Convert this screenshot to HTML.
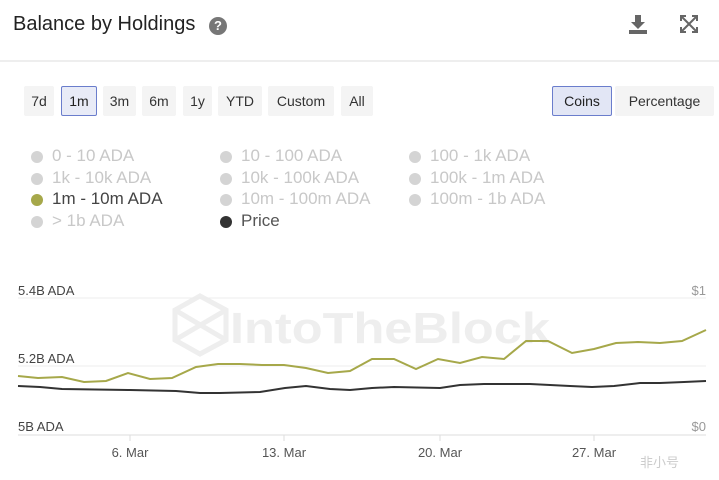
<!DOCTYPE html>
<html><head><meta charset="utf-8"><style>
body{margin:0;width:719px;height:480px;background:#fff;font-family:"Liberation Sans",sans-serif;position:relative;overflow:hidden}
.a{position:absolute;white-space:nowrap}
.btn{position:absolute;top:86px;height:30px;line-height:30px;background:#f4f4f4;font-size:14px;color:#333;text-align:center;border-radius:2px}
.lg{position:absolute;font-size:17px;color:#c8c8c8}
.lg i{position:absolute;left:-21px;top:5px;width:12px;height:12px;border-radius:50%;background:#d4d4d4}
</style></head><body>
<div class="a" style="left:13px;top:13px;font-size:20px;color:#222">Balance by Holdings</div>
<div class="a" style="left:209px;top:17px;width:18px;height:18px;border-radius:50%;background:#777;color:#fff;font-size:13px;font-weight:bold;text-align:center;line-height:18px">?</div>
<svg class="a" style="left:628px;top:14px" width="20" height="20"><path d="M7 1h6v7h4l-7 7-7-7h4z" fill="#666"/><rect x="1" y="16" width="18" height="4" fill="#666"/></svg>
<svg class="a" style="left:680px;top:15px" width="18" height="18" stroke="#666" stroke-width="2" fill="none"><path d="M2 2l14 14M16 2L2 16M1 6V1h5M12 1h5v5M1 12v5h5M17 12v5h-5"/></svg>
<div class="a" style="left:0;top:60px;width:719px;height:2px;background:#eee"></div>
<div class="btn" style="left:24px;width:30px">7d</div>
<div class="btn" style="left:61px;width:34px;height:28px;line-height:28px;border:1px solid #6a7dcc;background:#e8ebf7;color:#222">1m</div>
<div class="btn" style="left:103px;width:33px">3m</div>
<div class="btn" style="left:142px;width:34px">6m</div>
<div class="btn" style="left:183px;width:29px">1y</div>
<div class="btn" style="left:218px;width:44px">YTD</div>
<div class="btn" style="left:268px;width:66px">Custom</div>
<div class="btn" style="left:341px;width:32px">All</div>
<div class="btn" style="left:552px;width:58px;height:28px;line-height:28px;border:1px solid #6a7dcc;background:#e2e6f5;color:#222">Coins</div>
<div class="btn" style="left:615px;width:99px">Percentage</div>
<div class="lg" style="left:52px;top:146px"><i></i>0 - 10 ADA</div>
<div class="lg" style="left:52px;top:168px"><i></i>1k - 10k ADA</div>
<div class="lg" style="left:52px;top:189px;color:#444"><i style="background:#a6a84a"></i>1m - 10m ADA</div>
<div class="lg" style="left:52px;top:211px"><i></i>&gt; 1b ADA</div>
<div class="lg" style="left:241px;top:146px"><i></i>10 - 100 ADA</div>
<div class="lg" style="left:241px;top:168px"><i></i>10k - 100k ADA</div>
<div class="lg" style="left:241px;top:189px"><i></i>10m - 100m ADA</div>
<div class="lg" style="left:241px;top:211px;color:#555"><i style="background:#333"></i>Price</div>
<div class="lg" style="left:430px;top:146px"><i></i>100 - 1k ADA</div>
<div class="lg" style="left:430px;top:168px"><i></i>100k - 1m ADA</div>
<div class="lg" style="left:430px;top:189px"><i></i>100m - 1b ADA</div>
<svg class="a" style="left:0;top:0" width="719" height="480">
<g font-family="Liberation Sans" font-size="44" fill="#eeeeee" font-weight="bold"><text x="230" y="343" textLength="320" lengthAdjust="spacingAndGlyphs">IntoTheBlock</text></g>
<g fill="none" stroke="#eee" stroke-width="5"><path d="M175 310 L200 296 L226 310 L226 340 L200 354 L175 340 Z M175 310 L226 340 M226 310 L175 340"/></g>
<g stroke="#ececec" stroke-width="1"><line x1="18" y1="298" x2="706" y2="298"/><line x1="18" y1="366" x2="706" y2="366"/></g>
<line x1="18" y1="435" x2="706" y2="435" stroke="#ddd"/>
<g stroke="#ddd"><line x1="130" y1="435" x2="130" y2="441"/><line x1="284" y1="435" x2="284" y2="441"/><line x1="440" y1="435" x2="440" y2="441"/><line x1="594" y1="435" x2="594" y2="441"/></g>
<g font-family="Liberation Sans" font-size="13" fill="#444"><text x="18" y="295">5.4B ADA</text><text x="18" y="363">5.2B ADA</text><text x="18" y="431">5B ADA</text></g>
<g font-family="Liberation Sans" font-size="13" fill="#999" text-anchor="end"><text x="706" y="295">$1</text><text x="706" y="431">$0</text></g>
<g font-family="Liberation Sans" font-size="13" fill="#555" text-anchor="middle"><text x="130" y="457">6. Mar</text><text x="284" y="457">13. Mar</text><text x="440" y="457">20. Mar</text><text x="594" y="457">27. Mar</text></g>
<polyline fill="none" stroke="#333" stroke-width="2" points="18,386 40,387 62,389 130,390 176,391 200,393 220,393 260,392 285,388 306,386 330,389 350,390 372,388 394,387 440,388 460,385 484,384 530,384 570,386 592,387 614,386 640,383 660,383 684,382 706,381"/>
<polyline fill="none" stroke="#a6a84a" stroke-width="2" points="18,376 38,378 62,377 84,382 106,381 128,373 150,379 172,378 196,367 218,364 240,364 262,365 284,365 306,368 328,373 350,371 372,359 394,359 416,369 438,359 460,363 482,357 504,359 526,341 548,341 572,353 594,349 616,343 638,342 660,343 682,341 706,330"/>
<text x="640" y="467" font-family="Liberation Sans,Noto Sans CJK SC,sans-serif" font-size="13" fill="#ccc">非小号</text>
</svg>
</body></html>
